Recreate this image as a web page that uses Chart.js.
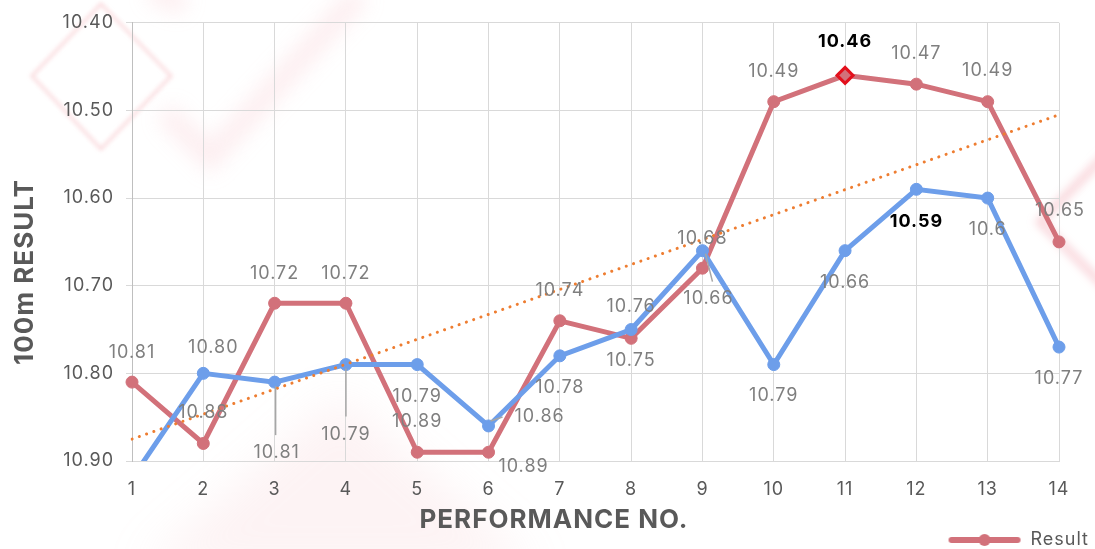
<!DOCTYPE html>
<html>
<head>
<meta charset="utf-8">
<script src="https://cdn.jsdelivr.net/npm/chart.js@4.4.1/dist/chart.umd.min.js"></script>
<style>
  html, body { margin: 0; padding: 0; background: #fff; }
  #wrap { width: 1095px; height: 549px; position: relative; }
</style>
</head>
<body>
<div id="wrap"><canvas id="resultChart"></canvas></div>
<script>
// performance numbers and 100m times (seconds)
const performanceNo = ['1', '2', '3', '4', '5', '6', '7', '8', '9', '10', '11', '12', '13', '14'];
const resultTimes = [10.81, 10.88, 10.72, 10.72, 10.89, 10.89, 10.74, 10.76, 10.68, 10.49, 10.46, 10.47, 10.49, 10.65];
const secondTimes = [10.92, 10.80, 10.81, 10.79, 10.79, 10.86, 10.78, 10.75, 10.66, 10.79, 10.66, 10.59, 10.60, 10.77];
const resultLabels = ['10.81', '10.88', '10.72', '10.72', '10.89', '10.89', '10.74', '10.76', '10.68', '10.49', '10.46', '10.47', '10.49', '10.65'];
const secondLabels = ['', '10.80', '10.81', '10.79', '10.79', '10.86', '10.78', '10.75', '10.66', '10.79', '10.66', '10.59', '10.6', '10.77'];
// linear trend of Result, read at first and last performance
const trendTimes = [10.875, null, null, null, null, null, null, null, null, null, null, null, null, 10.505];
const yMin = 10.40;
const yMax = 10.90;
const yStep = 0.1;
const bestResult = 10;   // index of the best Result (bold label, diamond)
const bestSecond = 11;   // index of the best second-series time (bold label)

const FONT = 'Inter, "DejaVu Sans", sans-serif';
const RED = '#d2717a';
const BLUE = '#6d9eea';
const ORANGE = '#ee7d31';

// label offsets from the point [dx, dy], and leader lines [x1, y1, x2, y2] relative to the point
const resultOffsets = [[0, -30], [0, -31], [0, -30], [0, -30], [0, -31], [35, 14], [0, -30], [0, -32], [0, -30], [0, -30], [0, -34], [0, -31], [0, -31], [1, -31]];
const secondOffsets = [[0, 32], [10, -26], [2, 70], [0, 70], [0, 32], [51, -9], [0, 32], [0, 31], [6, 48], [0, 31], [0, 32], [0, 32], [0, 32], [0, 32]];
const secondLeaders = { 2: [1, 4, 1, 53], 3: [0, 4, 0, 52], 5: [2, -5, 14, -9], 8: [3, 3, 10, 31] };

let pointStyles = resultTimes.map((v, i) => i === bestResult ? 'rectRot' : 'circle');
let pointRadii = resultTimes.map((v, i) => i === bestResult ? 8 : 6);
let pointBorders = resultTimes.map((v, i) => i === bestResult ? '#e3101c' : RED);
let pointBorderWidths = resultTimes.map((v, i) => i === bestResult ? 3 : 1);

// legend icon: line with a dot in the middle
const legendIcon = document.createElement('canvas');
legendIcon.width = 74;
legendIcon.height = 14;
(function () {
    const c = legendIcon.getContext('2d');
    c.strokeStyle = RED;
    c.lineWidth = 6;
    c.lineCap = 'round';
    c.beginPath();
    c.moveTo(4, 7);
    c.lineTo(70, 7);
    c.stroke();
    c.fillStyle = RED;
    c.beginPath();
    c.arc(37, 7, 6, 0, Math.PI * 2);
    c.fill();
})();

const backdrop = {
    id: 'backdrop',
    beforeUpdate(chart) {
        // the reference type is set a little wider than Inter
        chart.ctx.letterSpacing = '1px';
    },
    afterLayout(chart) {
        // push the legend down to the bottom edge
        chart.legend.top += 10;
        chart.legend.bottom += 10;
    },
    beforeDraw(chart) {
        const ctx = chart.ctx;
        ctx.letterSpacing = '1px';
        ctx.save();
        ctx.fillStyle = '#fff';
        ctx.fillRect(0, 0, chart.width, chart.height);
        // faint pink decorations
        ctx.filter = 'blur(2px)';
        ctx.strokeStyle = 'rgba(238,130,140,0.3)';
        ctx.lineWidth = 3;
        ctx.beginPath();
        ctx.moveTo(101, 4); ctx.lineTo(171, 76); ctx.lineTo(101, 149); ctx.lineTo(32, 76); ctx.closePath();
        ctx.stroke();
        ctx.filter = 'blur(10px)';
        ctx.strokeStyle = 'rgba(245,170,178,0.2)';
        ctx.lineWidth = 22;
        ctx.beginPath();
        ctx.moveTo(165, 112); ctx.lineTo(210, 158); ctx.lineTo(360, -6);
        ctx.stroke();
        ctx.beginPath();
        ctx.moveTo(150, -10); ctx.lineTo(185, 5);
        ctx.stroke();
        ctx.filter = 'blur(22px)';
        ctx.fillStyle = 'rgba(245,180,185,0.16)';
        ctx.beginPath();
        ctx.moveTo(340, 395); ctx.lineTo(540, 570); ctx.lineTo(140, 570); ctx.closePath();
        ctx.fill();
        ctx.filter = 'blur(4px)';
        ctx.strokeStyle = 'rgba(235,120,135,0.3)';
        ctx.lineWidth = 8;
        ctx.beginPath();
        ctx.moveTo(1130, 130); ctx.lineTo(1040, 222); ctx.lineTo(1130, 312);
        ctx.stroke();
        ctx.restore();
    },
    afterDraw(chart) {
        const ctx = chart.ctx;
        ctx.save();
        ctx.fillStyle = '#595959';
        ctx.font = 'bold 26px ' + FONT;
        ctx.letterSpacing = '1px';
        ctx.textAlign = 'center';
        ctx.textBaseline = 'middle';
        ctx.fillText('PERFORMANCE NO.', 554, 520);
        ctx.translate(25, 272);
        ctx.rotate(-Math.PI / 2);
        ctx.fillText('100m RESULT', 0, 0);
        ctx.restore();
    }
};

const pointLabels = {
    id: 'pointLabels',
    afterDatasetsDraw(chart) {
        const ctx = chart.ctx;
        const sets = [
            { index: 2, values: resultTimes, labels: resultLabels, offsets: resultOffsets, bold: bestResult, leaders: {} },
            { index: 1, values: secondTimes, labels: secondLabels, offsets: secondOffsets, bold: bestSecond, leaders: secondLeaders }
        ];
        ctx.save();
        ctx.letterSpacing = '1px';
        ctx.textAlign = 'center';
        ctx.textBaseline = 'middle';
        sets.forEach(set => {
            const meta = chart.getDatasetMeta(set.index);
            meta.data.forEach((pt, i) => {
                const v = set.values[i];
                if (v < yMin || v > yMax || !set.labels[i]) return;
                const lead = set.leaders[i];
                if (lead) {
                    ctx.strokeStyle = '#a6a6a6';
                    ctx.lineWidth = 1.5;
                    ctx.beginPath();
                    ctx.moveTo(pt.x + lead[0], pt.y + lead[1]);
                    ctx.lineTo(pt.x + lead[2], pt.y + lead[3]);
                    ctx.stroke();
                }
                if (i === set.bold) {
                    ctx.font = 'bold 18px ' + FONT;
                    ctx.fillStyle = '#000';
                } else {
                    ctx.font = '18px ' + FONT;
                    ctx.fillStyle = '#7f7f7f';
                }
                const off = set.offsets[i];
                ctx.fillText(set.labels[i], pt.x + off[0], pt.y + off[1]);
            });
        });
        ctx.restore();
    }
};

new Chart(document.getElementById('resultChart'), {
    type: 'line',
    data: {
        labels: performanceNo,
        datasets: [
            {
                label: 'Linear (Result)',
                data: trendTimes,
                borderColor: ORANGE,
                borderWidth: 3,
                borderDash: [0.1, 7.6],
                borderCapStyle: 'round',
                pointRadius: 0,
                spanGaps: true,
                order: 0
            },
            {
                label: 'Series 2',
                data: secondTimes,
                borderColor: BLUE,
                backgroundColor: BLUE,
                borderWidth: 5,
                pointRadius: 6,
                pointBorderWidth: 1,
                order: 1
            },
            {
                label: 'Result',
                data: resultTimes,
                borderColor: RED,
                backgroundColor: RED,
                borderWidth: 5,
                pointStyle: pointStyles,
                pointRadius: pointRadii,
                pointBorderColor: pointBorders,
                pointBorderWidth: pointBorderWidths,
                order: 2
            }
        ]
    },
    options: {
        responsive: true,
        maintainAspectRatio: false,
        animation: false,
        devicePixelRatio: 1,
        layout: { padding: { left: 0, right: 2, top: 20, bottom: 0 } },
        plugins: {
            tooltip: { enabled: false },
            legend: {
                position: 'bottom',
                align: 'end',
                labels: {
                    usePointStyle: true,
                    pointStyle: legendIcon,
                    pointStyleWidth: 74,
                    color: '#595959',
                    font: { family: FONT, size: 18 },
                    padding: 4,
                    filter: item => item.text === 'Result'
                }
            }
        },
        scales: {
            x: {
                offset: false,
                grid: { color: '#d9d9d9', drawTicks: false },
                border: { color: '#d9d9d9' },
                ticks: { color: '#595959', font: { family: FONT, size: 18 }, padding: 18, maxRotation: 0 },
                afterFit: s => { s.height = s.chart.height - 461 - (s.chart.legend ? s.chart.legend.height : 0); }
            },
            y: {
                reverse: true,
                min: yMin,
                max: yMax,
                grid: { color: '#d9d9d9', tickLength: 6 },
                border: { color: '#bfbfbf' },
                ticks: {
                    stepSize: yStep,
                    color: '#595959',
                    font: { family: FONT, size: 18 },
                    padding: 12,
                    callback: v => Number(v).toFixed(2)
                },
                afterFit: s => { s.width = 132; }
            },
            yR: {
                position: 'right',
                display: true,
                grid: { display: false },
                border: { display: false },
                ticks: { display: false },
                afterFit: s => { s.width = 34; }
            }
        }
    },
    plugins: [backdrop, pointLabels]
});
</script>
</body>
</html>
